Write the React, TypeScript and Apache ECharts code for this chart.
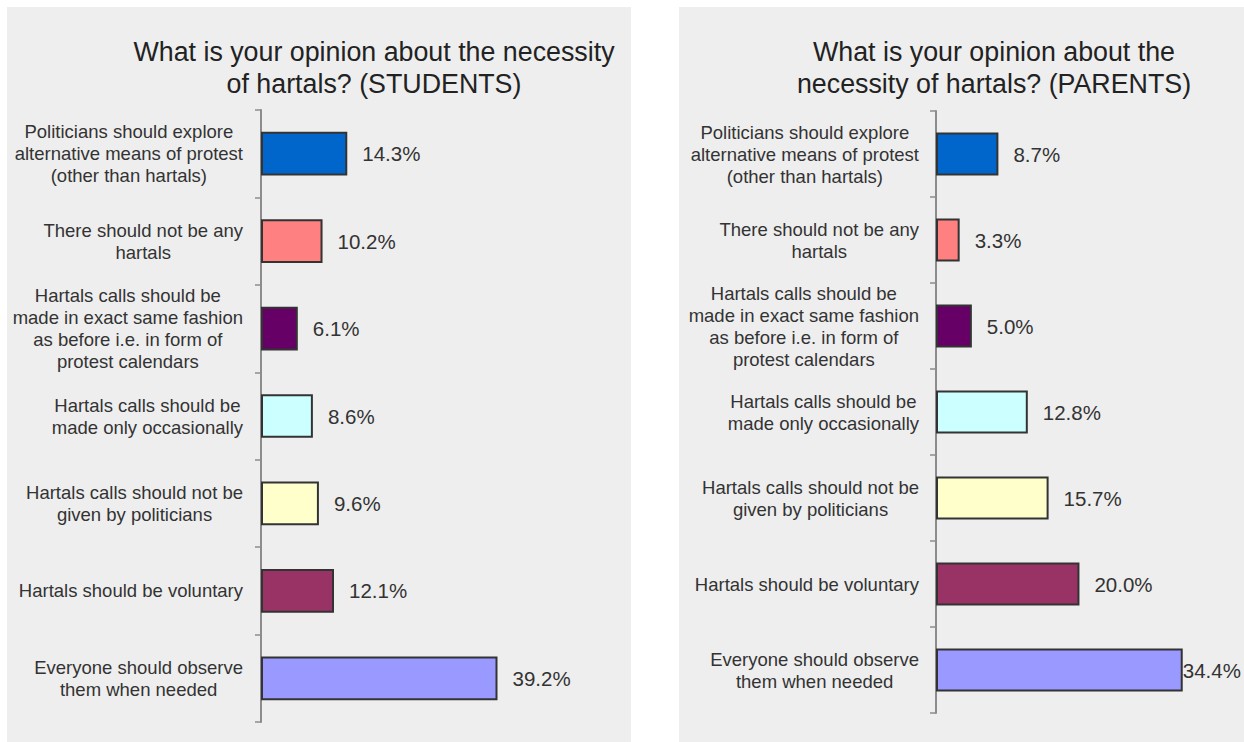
import React, { useEffect, useRef } from "react";
import * as echarts from "echarts";

const categories: string[] = [
  "Politicians should explore\nalternative means of protest\n(other than hartals)",
  "There should not be any\nhartals",
  "Hartals calls should be\nmade in exact same fashion\nas before i.e. in form of\nprotest calendars",
  "Hartals calls should be\nmade only occasionally",
  "Hartals calls should not be\ngiven by politicians",
  "Hartals should be voluntary",
  "Everyone should observe\nthem when needed",
];

const studentValues: number[] = [14.3, 10.2, 6.1, 8.6, 9.6, 12.1, 39.2];
const parentValues: number[] = [8.7, 3.3, 5.0, 12.8, 15.7, 20.0, 34.4];

const barColors: string[] = [
  "#0066CC",
  "#FF8080",
  "#660066",
  "#CCFFFF",
  "#FFFFCC",
  "#993366",
  "#9999FF",
];

const studentTitle = "What is your opinion about the necessity\nof hartals? (STUDENTS)";
const parentTitle = "What is your opinion about the\nnecessity of hartals? (PARENTS)";

const FONT = "'Liberation Sans', Arial, sans-serif";
const TEXT = "#333333";

export default function App() {
  const ref = useRef<HTMLDivElement>(null);

  useEffect(() => {
    if (!ref.current) return;
    const chart = echarts.init(ref.current, undefined, { renderer: "svg" });

    const catLabel = (v: string) =>
      v
        .split("\n")
        .map((l) => `{c|${l}}`)
        .join("\n");

    const yAxisBase = (gridIndex: number, margin: number) => ({
      type: "category" as const,
      gridIndex,
      data: categories,
      inverse: true,
      axisLine: { show: true, lineStyle: { color: "#8c8c8c", width: 2 } },
      axisTick: { show: true, length: 6, lineStyle: { color: "#8c8c8c", width: 1.5 } },
      axisLabel: {
        margin,
        align: "right" as const,
        formatter: catLabel,
        rich: {
          c: {
            align: "center" as const,
            fontSize: 18.5,
            lineHeight: 22,
            fontFamily: FONT,
            color: TEXT,
          },
        },
      },
    });

    const seriesBase = (idx: number, values: number[], tightLast: boolean) => ({
      type: "bar" as const,
      xAxisIndex: idx,
      yAxisIndex: idx,
      barWidth: "50%",
      data: values.map((v, i) => {
        const item: any = {
          value: v,
          itemStyle: { color: barColors[i] },
        };
        if (tightLast && i === values.length - 1) {
          item.label = { distance: 0 };
        }
        return item;
      }),
      itemStyle: { borderColor: "#333333", borderWidth: 2 },
      label: {
        show: true,
        position: "right" as const,
        distance: 15,
        formatter: (p: any) => `${Number(p.value).toFixed(1)}%`,
        fontSize: 20.5,
        fontFamily: FONT,
        color: TEXT,
      },
    });

    chart.setOption({
      animation: false,
      backgroundColor: "#ffffff",
      graphic: [
        {
          type: "rect",
          z: -10,
          silent: true,
          shape: { x: 7, y: 7, width: 624, height: 740 },
          style: { fill: "#eeeeee" },
        },
        {
          type: "rect",
          z: -10,
          silent: true,
          shape: { x: 679, y: 7, width: 570, height: 740 },
          style: { fill: "#eeeeee" },
        },
        {
          type: "text",
          x: 374,
          y: 36,
          style: {
            text: studentTitle,
            align: "center",
            verticalAlign: "top",
            fontSize: 26.8,
            lineHeight: 32,
            fontFamily: FONT,
            fill: "#222222",
          },
        },
        {
          type: "text",
          x: 994,
          y: 36,
          style: {
            text: parentTitle,
            align: "center",
            verticalAlign: "top",
            fontSize: 26.8,
            lineHeight: 32,
            fontFamily: FONT,
            fill: "#222222",
          },
        },
      ],
      grid: [
        { left: 261, top: 110, width: 301.65, height: 612 },
        { left: 936, top: 111, width: 286.9, height: 602 },
      ],
      xAxis: [
        { type: "value", gridIndex: 0, min: 0, max: 50, show: false, splitLine: { show: false } },
        { type: "value", gridIndex: 1, min: 0, max: 40, show: false, splitLine: { show: false } },
      ],
      yAxis: [yAxisBase(0, 18), yAxisBase(1, 17)],
      series: [seriesBase(0, studentValues, false), seriesBase(1, parentValues, true)],
    });

    return () => chart.dispose();
  }, []);

  return (
    <div
      ref={ref}
      style={{ position: "absolute", left: 0, top: 0, width: 1244, height: 742 }}
    />
  );
}
